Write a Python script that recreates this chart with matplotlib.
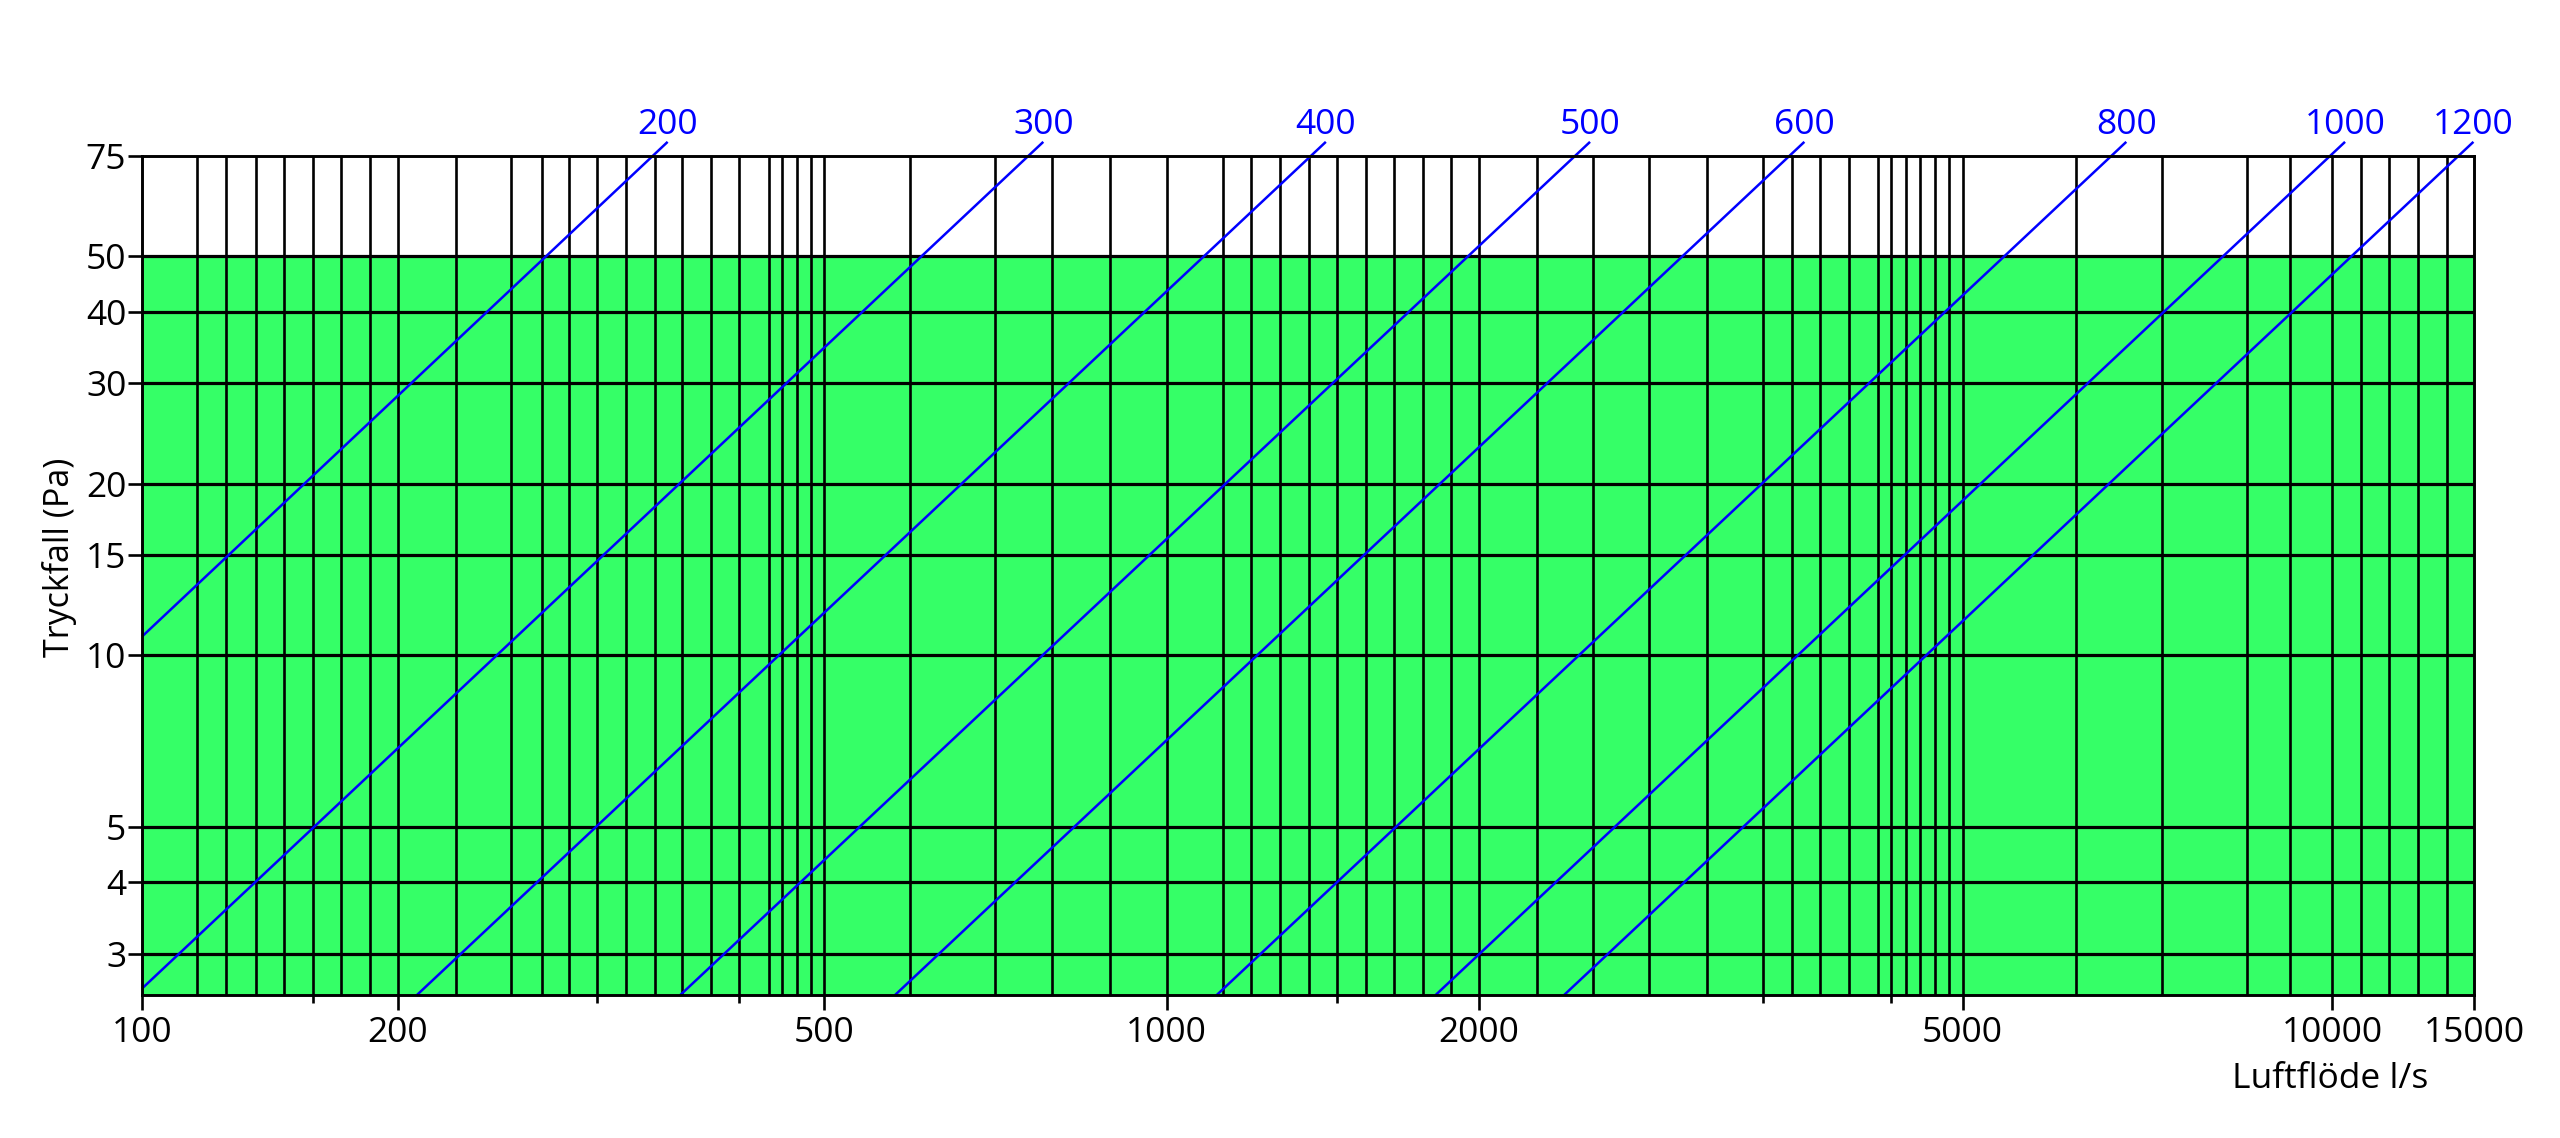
import numpy as np
import matplotlib
matplotlib.use("Agg")
import matplotlib.pyplot as plt
from matplotlib.ticker import FixedLocator, FixedFormatter, NullFormatter, NullLocator

plt.rcParams["font.family"] = ["Open Sans", "DejaVu Sans"]

# ---------------- data ----------------
X_MAJOR_TICKS = [100, 200, 500, 1000, 2000, 5000, 10000, 15000]
X_MAJOR_LABELS = ["100", "200", "500", "1000", "2000", "5000", "10000", "15000"]
X_MINOR_TICKS = [150, 300, 400, 1500, 3000, 4000]

# the printed x axis is hand drawn (not a true log axis):
# fraction of the axis width at which each flow value sits
X_CAL_VALUES = [100, 150, 200, 300, 400, 500, 1000, 1500, 2000, 3000, 4000, 5000, 10000, 15000]
X_CAL_FRAC = [0.0, 0.0731, 0.1095, 0.1951, 0.2560, 0.2925, 0.4393, 0.5122,
              0.5733, 0.6952, 0.7501, 0.7807, 0.9392, 1.0]

Y_TICKS = [3, 4, 5, 10, 15, 20, 30, 40, 50, 75]
Y_LABELS = ["3", "4", "5", "10", "15", "20", "30", "40", "50", "75"]

GRID_X = [114, 122, 131, 140, 150, 165, 182, 200, 225, 252, 268, 283, 300,
          318, 337, 356, 378, 400, 432, 448, 465, 483, 500, 595, 707, 793, 891,
          1000, 1145, 1224, 1311, 1403, 1500, 1591, 1685, 1785, 1890, 2000,
          2172, 2352, 2550, 2768, 3000, 3201, 3410, 3635, 3879, 4000, 4188,
          4376, 4581, 4786, 5000, 6183, 7265, 8526, 9232, 10000, 10855, 11772,
          12793, 13872]
GRID_Y = [3, 4, 5, 10, 15, 20, 30, 40, 50]

X_MIN, X_MAX = 100, 15000
Y_MIN, Y_MAX = 2.54, 75
GREEN_TOP = 50

DUCT_LABELS = ["200", "300", "400", "500", "600", "800", "1000", "1200"]
LINE_X_START = [100, 100, 208, 355, 577, 1127, 1832, 2258]
LINE_Y_START = [10.8, 2.61, 2.54, 2.54, 2.54, 2.54, 2.54, 2.54]
LINE_X_END = [346, 779, 1462, 2343, 3290, 6796, 10373, 14975]
LINE_Y_END = [79.4, 79.4, 79.4, 79.4, 79.4, 79.4, 79.4, 79.4]

# ---------------- styles ----------------
GREEN = "#35FF67"
BLUE = "#0000FF"
FS = 25.5

LV = np.log10(np.array(X_CAL_VALUES, dtype=float))
FR = np.array(X_CAL_FRAC, dtype=float)


def fwd(x):
    x = np.asarray(x, dtype=float)
    shp = x.shape
    x = x.ravel()
    with np.errstate(divide="ignore", invalid="ignore"):
        lx = np.log10(np.where(x > 0, x, np.nan))
    y = np.interp(lx, LV, FR)
    lo = lx < LV[0]
    hi = lx > LV[-1]
    y[lo] = FR[0] + (lx[lo] - LV[0]) * (FR[1] - FR[0]) / (LV[1] - LV[0])
    y[hi] = FR[-1] + (lx[hi] - LV[-1]) * (FR[-1] - FR[-2]) / (LV[-1] - LV[-2])
    return y.reshape(shp)


def inv(p):
    p = np.asarray(p, dtype=float)
    shp = p.shape
    p = p.ravel()
    lx = np.interp(p, FR, LV)
    lo = p < FR[0]
    hi = p > FR[-1]
    lx[lo] = LV[0] + (p[lo] - FR[0]) * (LV[1] - LV[0]) / (FR[1] - FR[0])
    lx[hi] = LV[-1] + (p[hi] - FR[-1]) * (LV[-1] - LV[-2]) / (FR[-1] - FR[-2])
    return (10 ** lx).reshape(shp)


fig = plt.figure(figsize=(25.6, 11.38), dpi=100)
ax = fig.add_axes([0.05559, 0.12566, 0.91082, 0.73726])

ax.set_xscale("function", functions=(fwd, inv))
ax.set_yscale("log")
ax.set_xlim(X_MIN, X_MAX)
ax.set_ylim(Y_MIN, Y_MAX)

ax.axhspan(Y_MIN, GREEN_TOP, color=GREEN, lw=0, zorder=0)

ax.vlines(GRID_X, 0, 1, transform=ax.get_xaxis_transform(),
          colors="black", lw=1.9, zorder=1)
ax.hlines(GRID_Y, 0, 1, transform=ax.get_yaxis_transform(),
          colors="black", lw=2.3, zorder=1)

for lab, xs, ys, xe, ye in zip(DUCT_LABELS, LINE_X_START, LINE_Y_START,
                               LINE_X_END, LINE_Y_END):
    ax.plot([xs, xe], [ys, ye], color=BLUE, lw=1.8, clip_on=False,
            solid_capstyle="butt", zorder=3)
    ax.annotate(lab, (xe, ye), xytext=(0, 6), textcoords="offset points",
                ha="center", va="baseline", color=BLUE, fontsize=FS,
                annotation_clip=False)

ax.xaxis.set_major_locator(FixedLocator(X_MAJOR_TICKS))
ax.xaxis.set_major_formatter(FixedFormatter(X_MAJOR_LABELS))
ax.xaxis.set_minor_locator(FixedLocator(X_MINOR_TICKS))
ax.xaxis.set_minor_formatter(NullFormatter())

ax.yaxis.set_major_locator(FixedLocator(Y_TICKS))
ax.yaxis.set_major_formatter(FixedFormatter(Y_LABELS))
ax.yaxis.set_minor_locator(NullLocator())
ax.yaxis.set_minor_formatter(NullFormatter())

ax.tick_params(axis="x", which="major", length=10.5, width=1.9,
               direction="out", labelsize=FS, pad=4.5, colors="black")
ax.tick_params(axis="x", which="minor", length=5.8, width=1.9,
               direction="out")
ax.tick_params(axis="y", which="major", length=10, width=1.9,
               direction="out", labelsize=FS, pad=1.5)

for sp in ax.spines.values():
    sp.set_linewidth(2.1)
    sp.set_color("black")
    sp.set_zorder(4)

fig.text(59.5 / 2560, 1 - 557.6 / 1138, "Tryckfall (Pa)", rotation=90,
         ha="center", va="center", fontsize=24.5)
fig.text(2330 / 2560, 1 - 1088 / 1138, "Luftflöde l/s", ha="center",
         va="baseline", fontsize=FS)

fig.savefig("out.png", dpi=100)
